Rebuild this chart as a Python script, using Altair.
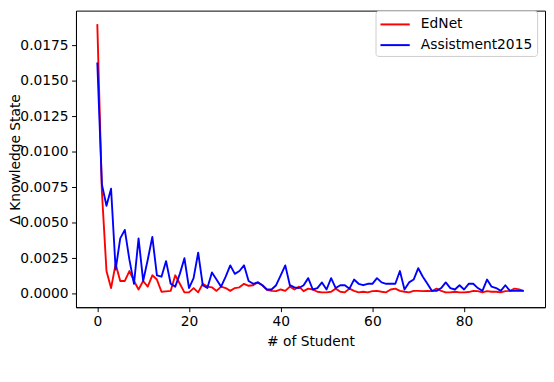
import altair as alt
import pandas as pd

# x positions (# of Student)
students = list(range(94))

ednet = [
    0.0190, 0.0072, 0.0016, 0.0004, 0.0021, 0.0009, 0.0009, 0.0016, 0.0009, 0.0003,
    0.0009, 0.0005, 0.0013, 0.0010, 0.00014, 0.00017, 0.0002, 0.0013, 0.0007, 0.0001,
    0.0001, 0.0004, 0.0001, 0.0007, 0.0005, 0.00045, 0.0002, 0.0005, 0.0004, 0.0002,
    0.0004, 0.00045, 0.0007, 0.00056, 0.0006, 0.0008, 0.0006, 0.00027, 0.0002, 0.00018,
    0.0003, 0.0002, 0.0005, 0.0003, 0.0005, 0.00018, 0.00036, 0.0003, 0.00014, 0.0001,
    0.0001, 0.00014, 0.00036, 0.00014, 0.0001, 0.00036, 0.0002, 0.0001, 0.00014, 0.0001,
    0.00018, 0.0002, 0.00014, 0.0001, 0.0003, 0.00036, 0.0002, 0.00014, 0.0001, 0.0002,
    0.0002, 0.00018, 0.0002, 0.00018, 0.00036, 0.0002, 0.0001, 0.0001, 0.00014, 0.0001,
    0.0001, 0.00012, 0.0002, 0.00018, 0.0001, 0.00018, 0.00014, 0.00014, 0.0001, 0.00018,
    0.0002, 0.00036, 0.0003, 0.0002,
]

assistment2015 = [
    0.0163, 0.0077, 0.0062, 0.0074, 0.0017, 0.0039, 0.0045, 0.0024, 0.0007, 0.0039,
    0.0009, 0.0024, 0.0040, 0.0013, 0.0012, 0.0023, 0.0007, 0.0005, 0.0014, 0.0025,
    0.0004, 0.0011, 0.0029, 0.0006, 0.0004, 0.0015, 0.0010, 0.0005, 0.0012, 0.0020,
    0.0014, 0.0016, 0.0020, 0.0009, 0.0007, 0.0008, 0.0006, 0.0003, 0.0003, 0.0006,
    0.0013, 0.0020, 0.0006, 0.00045, 0.0004, 0.0006, 0.0011, 0.0003, 0.0004, 0.0008,
    0.0003, 0.0011, 0.0004, 0.0006, 0.0006, 0.00036, 0.0010, 0.0007, 0.0006, 0.0007,
    0.0007, 0.0011, 0.0008, 0.0007, 0.0007, 0.0007, 0.0016, 0.0003, 0.0008, 0.0010,
    0.0018, 0.0012, 0.0007, 0.0002, 0.0002, 0.0004, 0.0008, 0.0004, 0.0003, 0.0006,
    0.0003, 0.0007, 0.0007, 0.0004, 0.0002, 0.0010, 0.0005, 0.0004, 0.0002, 0.0006,
    0.0002, 0.0002, 0.0002, 0.0002,
]

series_names = ["EdNet", "Assistment2015"]
series_colors = ["#ff0000", "#0000ff"]
x_ticks = [0, 20, 40, 60, 80]
y_ticks = [0.0, 0.0025, 0.005, 0.0075, 0.01, 0.0125, 0.015, 0.0175]

rows = []
for k, vals in enumerate([ednet, assistment2015]):
    for xi, v in zip(students, vals):
        rows.append({"student": xi, "value": v, "series": series_names[k], "order": k})
df = pd.DataFrame(rows)

FONT = "DejaVu Sans"
W, H = 476, 301

chart = (
    alt.Chart(df)
    .mark_line(strokeWidth=1.9, strokeJoin="round")
    .encode(
        x=alt.X(
            "student:Q",
            scale=alt.Scale(domain=[-4.65, 97.65], nice=False, zero=False),
            axis=alt.Axis(values=x_ticks, title="# of Student", grid=False,
                          titlePadding=6),
        ),
        y=alt.Y(
            "value:Q",
            scale=alt.Scale(domain=[-0.00095, 0.01995], nice=False, zero=False),
            axis=alt.Axis(
                values=y_ticks, format=".4f", title="Δ Knowledge State", grid=False,
                titleX=-57, titleY=H / 2, titleAngle=270,
                titleBaseline="alphabetic", titleAlign="center",
            ),
        ),
        color=alt.Color(
            "series:N",
            scale=alt.Scale(domain=series_names, range=series_colors),
            legend=alt.Legend(
                title=None, orient="none", legendX=304, legendY=0,
                fillColor="white", strokeColor="#cccccc", cornerRadius=3,
                padding=4, symbolType="M-1,0H2.3", symbolSize=324,
                symbolStrokeWidth=2, labelFont=FONT, labelFontSize=14,
                labelColor="black", labelOffset=22, rowPadding=4,
            ),
        ),
        order=alt.Order("order:Q"),
    )
    .properties(
        width=W, height=H,
        autosize=alt.AutoSizeParams(type="none"),
        padding={"left": 69, "top": 0, "right": 1, "bottom": 58},
    )
    .configure_view(stroke="black", strokeWidth=1)
    .configure_axis(
        labelFont=FONT, labelFontSize=14, labelColor="black",
        titleFont=FONT, titleFontSize=14, titleFontWeight="normal", titleColor="black",
        tickColor="black", tickSize=4.5, tickWidth=1, labelPadding=3.5,
        domainColor="black", domainWidth=1,
    )
)

chart.save("out.html", embed_options={"renderer": "svg", "actions": False})
